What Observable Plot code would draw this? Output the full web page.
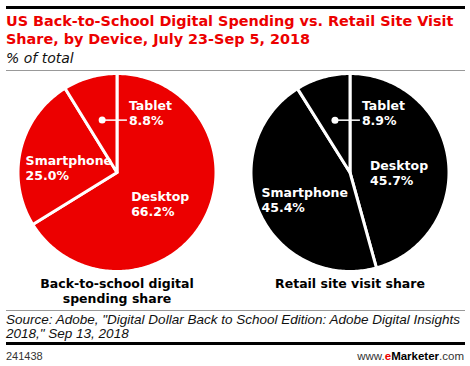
<!DOCTYPE html>
<html>
<head>
<meta charset="utf-8">
<script src="https://cdn.jsdelivr.net/npm/d3@7"></script>
<script src="https://cdn.jsdelivr.net/npm/@observablehq/plot@0.6"></script>
<style>
  html, body { margin: 0; padding: 0; background: #fff; }
  body { width: 470px; height: 366px; position: relative; overflow: hidden; }
  .abs { position: absolute; white-space: nowrap; }
  .rule-top { left: 6px; top: 6px; width: 459px; height: 3px; background: #000; }
  .title { left: 6px; top: 12px; font: bold 14.4px/18px "DejaVu Sans", sans-serif; color: #ec0000; }
  .subtitle { left: 6px; top: 49px; font: oblique 14px/18px "DejaVu Sans", sans-serif; color: #111; }
  .rule-thin1 { left: 6px; top: 70px; width: 459px; height: 1px; background: #999; }
  #chart { left: 0; top: 72px; }
  .rule-thin2 { left: 6px; top: 310px; width: 459px; height: 1px; background: #999; }
  .source { left: 6px; top: 313px; font-family: "Liberation Sans Narrow", "Liberation Sans", sans-serif; font-style: italic; color: #111; }
  .rule-bot { left: 6px; top: 342px; width: 459px; height: 3px; background: #000; }
  .id { left: 6px; top: 350px; font: 11px/12px "Liberation Sans", sans-serif; color: #333; }
  .site { right: 6px; top: 350px; font: 11.5px/12px "Liberation Sans", sans-serif; color: #333; }
  .site b { color: #000; }
  .site .e { color: #ec0000; font-weight: bold; }
</style>
</head>
<body>
<div class="abs rule-top"></div>
<div class="abs title">US Back-to-School Digital Spending vs. Retail Site Visit<br>Share, by Device, July 23-Sep 5, 2018</div>
<div class="abs subtitle">% of total</div>
<div class="abs rule-thin1"></div>
<div class="abs" id="chart"></div>
<div class="abs rule-thin2"></div>
<div class="abs source" id="source">Source: Adobe, "Digital Dollar Back to School Edition: Adobe Digital Insights<br>2018," Sep 13, 2018</div>
<div class="abs rule-bot"></div>
<div class="abs id">241438</div>
<div class="abs site">www.<span class="e">e</span><b>Marketer</b>.com</div>
<script>
// ---- data ----
const devices = ["Desktop", "Smartphone", "Tablet"];
const pies = ["Back-to-school digital\nspending share", "Retail site visit share"];
const spendingShare = [66.2, 25.0, 8.8];
const visitShare = [45.7, 45.4, 8.9];
const pieColors = ["#ec0000", "#000000"];

// ---- fit source text to the rule width ----
(function fitSource() {
  const el = document.getElementById("source");
  const ctx = document.createElement("canvas").getContext("2d");
  const line = 'Source: Adobe, "Digital Dollar Back to School Edition: Adobe Digital Insights';
  const fam = '"Liberation Sans Narrow", "Liberation Sans", sans-serif';
  ctx.font = `italic 13px ${fam}`;
  const w = ctx.measureText(line).width;
  const size = Math.min(13.5, 13 * 456 / w);
  el.style.fontSize = size + "px";
  el.style.lineHeight = "13.5px";
})();

// ---- geometry of the chart ----
const W = 470, H = 238, mL = 0, mR = 4, mT = 1, mB = 39;
const facetW = (W - mL - mR) / 2;
const pxPerUnit = (H - mT - mB) / 2;
const xHalf = facetW / 2 / pxPerUnit;

const series = [spendingShare, visitShare];
const slices = [];
const labels = [];
pies.forEach((pie, i) => {
  const arcs = d3.pie().sort(null)(series[i]);
  arcs.forEach((a, j) => {
    const n = Math.max(2, Math.ceil((a.endAngle - a.startAngle) / (Math.PI / 180)));
    const key = pie + "|" + devices[j];
    slices.push({pie, key, x: 0, y: 0});
    for (let k = 0; k <= n; k++) {
      const t = a.startAngle + (a.endAngle - a.startAngle) * k / n;
      slices.push({pie, key, x: Math.sin(t), y: Math.cos(t)});
    }
    slices.push({pie, key, x: 0, y: 0});
    const mid = (a.startAngle + a.endAngle) / 2;
    labels.push({pie, device: devices[j], value: series[i][j], mid, small: series[i][j] < 15});
  });
});

const labelText = d => `${d.device}\n${d.value.toFixed(1)}%`;
const ctx = document.createElement("canvas").getContext("2d");
ctx.font = 'bold 12.5px "DejaVu Sans"';
const textW = s => Math.max(...s.split("\n").map(l => ctx.measureText(l).width));

const bigLabels = labels.filter(d => !d.small).map(d => ({
  ...d,
  lx: 0.5 * Math.sin(d.mid) - textW(labelText(d)) / 2 / pxPerUnit,
  ly: 0.5 * Math.cos(d.mid)
}));
const smallLabels = labels.filter(d => d.small).map(d => ({
  ...d,
  dx0: 0.55 * Math.sin(d.mid),
  dy0: 0.55 * Math.cos(d.mid)
}));

const marks = [];
pies.forEach((pie, i) => {
  marks.push(Plot.line(slices.filter(d => d.pie === pie), {
    fx: "pie", x: "x", y: "y", z: "key",
    fill: pieColors[i], stroke: "#fff", strokeWidth: 3, strokeLinejoin: "round"
  }));
});
marks.push(
  Plot.text(bigLabels, {
    fx: "pie", x: "lx", y: "ly", text: labelText,
    textAnchor: "start", lineAnchor: "middle", dy: 7,
    fill: "#fff", fontWeight: "bold", fontSize: 12.5, lineHeight: 1.2
  }),
  Plot.link(smallLabels, {
    fx: "pie", x1: "dx0", y1: "dy0", x2: () => 0.1, y2: "dy0",
    stroke: "#fff", strokeWidth: 1.5
  }),
  Plot.dot(smallLabels, {
    fx: "pie", x: "dx0", y: "dy0", r: 3.5, fill: "#fff", stroke: null
  }),
  Plot.text(smallLabels, {
    fx: "pie", x: () => 0.12, y: "dy0", text: labelText,
    textAnchor: "start", lineAnchor: "middle", dy: -7.5,
    fill: "#fff", fontWeight: "bold", fontSize: 12.5, lineHeight: 1.2
  }),
  Plot.text(pies, {
    fx: d => d, x: () => 0, y: () => -1, text: d => d,
    lineAnchor: "top", dy: 6, fill: "#000", fontWeight: "bold", fontSize: 12.5, lineHeight: 1.2
  })
);

const chart = Plot.plot({
  width: W, height: H,
  marginLeft: mL, marginRight: mR, marginTop: mT, marginBottom: mB,
  fx: {domain: pies, padding: 0, axis: null},
  x: {domain: [-xHalf, xHalf], axis: null},
  y: {domain: [-1, 1], axis: null},
  style: {fontFamily: '"DejaVu Sans", sans-serif', background: "transparent", overflow: "visible"},
  marks
});
document.getElementById("chart").appendChild(chart);
</script>
</body>
</html>
